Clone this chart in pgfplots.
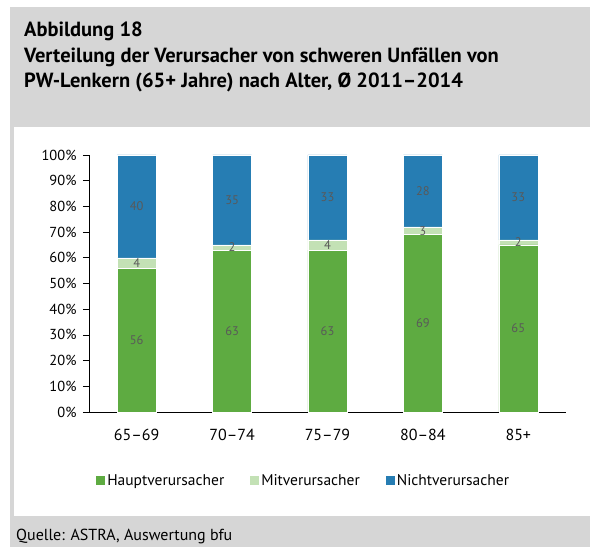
\documentclass[border=0pt]{standalone}
\usepackage{pgfplots}
\usepackage{pgfplotstable}
\pgfplotsset{compat=1.18}
\usepackage{fontspec}
\setmainfont{PT Sans}
\definecolor{bggray}{HTML}{D6D6D6}
\definecolor{cgreen}{HTML}{5EAB41}
\definecolor{clight}{HTML}{C3E1B5}
\definecolor{cblue}{HTML}{267DB3}
\definecolor{lblgray}{HTML}{595959}
\pgfplotstableread{
x hv mv nv
0 56 4 40
1 63 2 35
2 63 4 33
3 69 3 28
4 65 2 33
}\datatable
\pgfplotsset{sqlegend/.style={legend image code/.code={\fill[##1,draw=none] (0pt,-4.5pt) rectangle (9pt,4.5pt);}}}
\begin{document}
\begin{tikzpicture}[x=1pt,y=1pt]
\fill[white] (0,0) rectangle (590,547);
\fill[bggray] (10,0) rectangle (590,540);
\fill[white] (14,31) rectangle (590,420);
\node[anchor=base west, inner sep=0pt, font=\bfseries\fontsize{20.5}{23}\selectfont] at (24,510) {Abbildung 18};
\node[anchor=base west, inner sep=0pt, font=\bfseries\fontsize{20.5}{23}\selectfont] at (24,484) {Verteilung der Verursacher von schweren Unfällen von};
\node[anchor=base west, inner sep=0pt, font=\bfseries\fontsize{20.5}{23}\selectfont] at (24,459) {PW-Lenkern (65+ Jahre) nach Alter, Ø 2011–2014};
\node[anchor=base west, inner sep=0pt, font=\fontsize{16}{19}\selectfont] at (16,6) {Quelle: ASTRA, Auswertung bfu};
\begin{axis}[
  at={(89pt,135pt)}, anchor=south west,
  scale only axis, width=477pt, height=257pt,
  ybar stacked, bar width=39pt,
  xmin=-0.5, xmax=4.5, ymin=0, ymax=100,
  axis x line*=bottom, axis y line*=left,
  axis line style={-, black, line width=0.8pt},
  /pgf/number format/assume math mode=true,
  xtick={0,...,4},
  xticklabels={65–69,70–74,75–79,80–84,85+},
  major x tick style={draw=none},
  extra x ticks={-0.5,0.5,1.5,2.5,3.5,4.5},
  extra x tick labels={},
  extra x tick style={major tick length=5pt, tick align=outside, tick style={black, line width=0.6pt}},
  x tick label style={font=\fontsize{16}{19}\selectfont, yshift=-8pt},
  ytick={0,10,...,100},
  yticklabel={\pgfmathprintnumber{\tick}\%},
  y tick label style={font=\fontsize{14.5}{17}\selectfont, xshift=-3pt},
  y tick style={black, line width=0.6pt},
  tick align=outside, major tick length=6pt,
  nodes near coords={\pgfmathprintnumber{\rawy}},
  visualization depends on={rawy \as \rawy},
  every node near coord/.append style={font=\fontsize{12.5}{15}\selectfont, text=lblgray, anchor=center},
  legend style={at={(0.45,-0.268)}, anchor=center, draw=none, fill=none,
    legend columns=3, font=\fontsize{15.5}{18}\selectfont,
    /tikz/every even column/.append style={column sep=24pt}},
  legend cell align=left,
]
\addplot[fill=cgreen, draw=white, line width=0.4pt, sqlegend] table[x=x,y=hv] {\datatable};
\addplot[fill=clight, draw=white, line width=0.4pt, sqlegend] table[x=x,y=mv] {\datatable};
\addplot[fill=cblue, draw=white, line width=0.4pt, sqlegend] table[x=x,y=nv] {\datatable};
\legend{Hauptverursacher,Mitverursacher,Nichtverursacher}
\end{axis}
\end{tikzpicture}
\end{document}
